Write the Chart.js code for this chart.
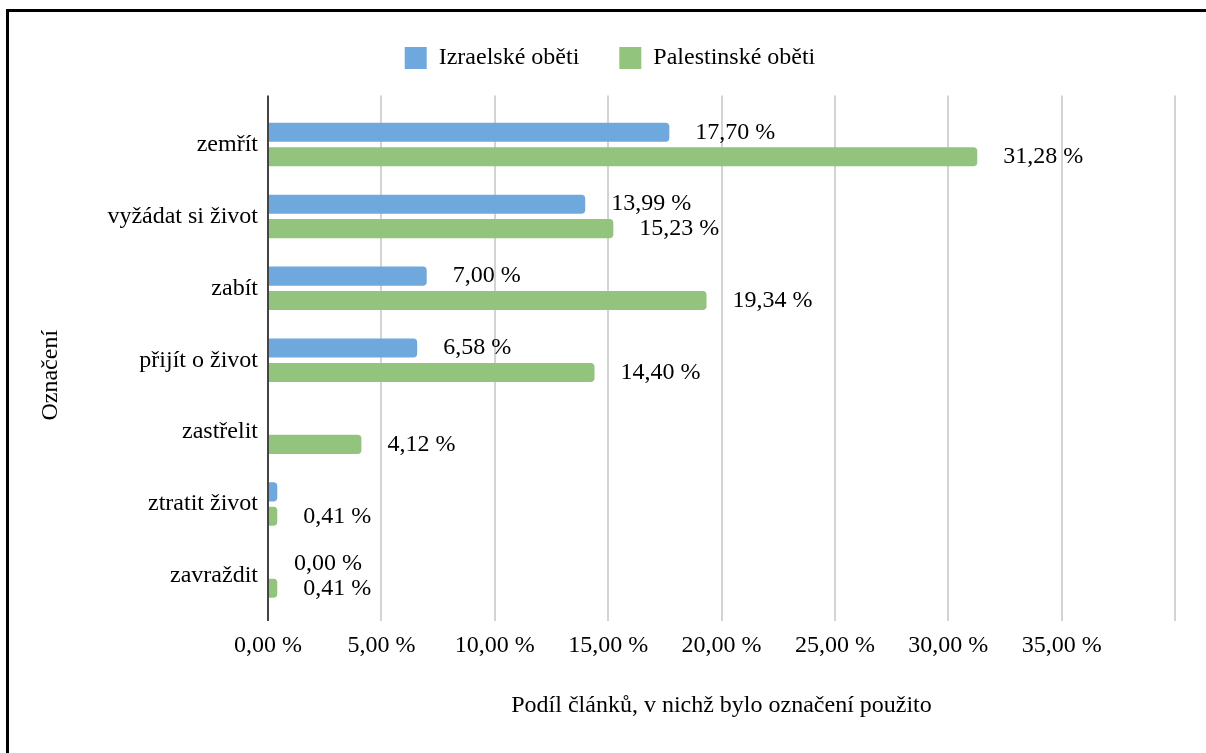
<!DOCTYPE html>
<html>
<head>
<meta charset="utf-8">
<script src="https://cdn.jsdelivr.net/npm/chart.js@4.4.0/dist/chart.umd.min.js"></script>
<style>
  html, body { margin: 0; padding: 0; background: #fff; overflow: hidden; }
  #wrap { position: relative; width: 1206px; height: 753px; }
  #frame { position: absolute; left: 6px; top: 9px; width: 1400px; height: 900px;
           border-left: 3px solid #000; border-top: 3px solid #000; pointer-events: none; }
</style>
</head>
<body>
<div id="wrap">
  <canvas id="c" width="1206" height="753"></canvas>
  <div id="frame"></div>
</div>
<script>
// ---- data ----
const categories = ['zemřít', 'vyžádat si život', 'zabít', 'přijít o život', 'zastřelit', 'ztratit život', 'zavraždit'];
const israeliValues = [17.70, 13.99, 7.00, 6.58, null, 0.41, 0.00];
const palestinianValues = [31.28, 15.23, 19.34, 14.40, 4.12, 0.41, 0.41];
const israeliLabelHidden = [false, false, false, false, true, true, false];
const palestinianLabelHidden = [false, false, false, false, false, false, false];
const seriesNames = ['Izraelské oběti', 'Palestinské oběti'];
const xTickValues = [0, 5, 10, 15, 20, 25, 30, 35, 40];
const xTickLabels = ['0,00 %', '5,00 %', '10,00 %', '15,00 %', '20,00 %', '25,00 %', '30,00 %', '35,00 %', ''];
const xTitle = 'Podíl článků, v nichž bylo označení použito';
const yTitle = 'Označení';

const FONT = '"Liberation Serif", "Times New Roman", serif';
const FS = 24;
const fmt = v => v.toFixed(2).replace('.', ',') + ' %';

const valueLabels = {
  id: 'valueLabels',
  afterDatasetsDraw(chart) {
    const ctx = chart.ctx;
    ctx.save();
    ctx.font = FS + 'px ' + FONT;
    ctx.fillStyle = '#000';
    ctx.textBaseline = 'middle';
    ctx.textAlign = 'left';
    chart.data.datasets.forEach((ds, di) => {
      const meta = chart.getDatasetMeta(di);
      meta.data.forEach((bar, i) => {
        const v = ds.data[i];
        if (v === null || ds.hiddenLabels[i]) return;
        ctx.fillText(fmt(v), bar.x + 26, bar.y);
      });
    });
    ctx.restore();
  }
};

const gridExt = {
  id: 'gridExt',
  beforeDatasetsDraw(chart) {
    const ctx = chart.ctx, xs = chart.scales.x, a = chart.chartArea;
    ctx.save();
    ctx.strokeStyle = '#d3d3d3';
    ctx.lineWidth = 2;
    xs.ticks.forEach(t => {
      if (t.value === 0) return;
      const px = Math.round(xs.getPixelForValue(t.value));
      ctx.beginPath();
      ctx.moveTo(px, a.top - 13);
      ctx.lineTo(px, a.bottom + 9);
      ctx.stroke();
    });
    ctx.restore();
  },
  afterDatasetsDraw(chart) {
    const ctx = chart.ctx, xs = chart.scales.x, a = chart.chartArea;
    ctx.save();
    ctx.strokeStyle = '#444';
    ctx.lineWidth = 2;
    const px = Math.round(xs.getPixelForValue(0));
    ctx.beginPath();
    ctx.moveTo(px, a.top - 13);
    ctx.lineTo(px, a.bottom + 9);
    ctx.stroke();
    ctx.restore();
  }
};

new Chart(document.getElementById('c'), {
  type: 'bar',
  data: {
    labels: categories,
    datasets: [
      { label: seriesNames[0], data: israeliValues, hiddenLabels: israeliLabelHidden,
        backgroundColor: '#6fa8dc', borderRadius: 4, borderSkipped: 'start' },
      { label: seriesNames[1], data: palestinianValues, hiddenLabels: palestinianLabelHidden,
        backgroundColor: '#93c47d', borderRadius: 4, borderSkipped: 'start' }
    ]
  },
  options: {
    indexAxis: 'y',
    responsive: false,
    animation: false,
    devicePixelRatio: 1,
    categoryPercentage: 0.68,
    barPercentage: 0.78,
    layout: { padding: { top: 6, left: 30, right: 16, bottom: 29 } },
    plugins: {
      legend: {
        position: 'top',
        labels: {
          boxWidth: 22, boxHeight: 22, padding: 40, color: '#000',
          font: { family: FONT, size: FS }
        }
      },
      title: {
        display: true, text: ' ', position: 'top', weight: 500,
        font: { family: FONT, size: 20 }, padding: { top: 2.5, bottom: 2 }
      },
      tooltip: { enabled: false }
    },
    scales: {
      x: {
        min: 0, max: 40,
        afterBuildTicks: s => { s.ticks = xTickValues.map(v => ({ value: v })); },
        afterFit: s => { s.height = 112; s.paddingRight = 31; s.paddingLeft = 0; },
        grid: { display: false, drawTicks: false },
        border: { display: false },
        ticks: {
          padding: 19, color: '#000', maxRotation: 0, autoSkip: false,
          font: { family: FONT, size: FS },
          callback: (v, i) => xTickLabels[i]
        },
        title: {
          display: true, text: xTitle, color: '#000',
          font: { family: FONT, size: FS }, padding: { top: 0, bottom: 4 }
        }
      },
      y: {
        afterFit: s => { s.width = 238; },
        grid: { display: false, drawTicks: false },
        border: { display: false },
        ticks: { padding: 10, color: '#000', font: { family: FONT, size: FS } },
        title: {
          display: true, text: yTitle + '\u00a0\u00a0\u00a0\u00a0\u00a0', color: '#000',
          font: { family: FONT, size: FS }, padding: { top: 6, bottom: 0 }
        }
      }
    }
  },
  plugins: [gridExt, valueLabels]
});
</script>
</body>
</html>
